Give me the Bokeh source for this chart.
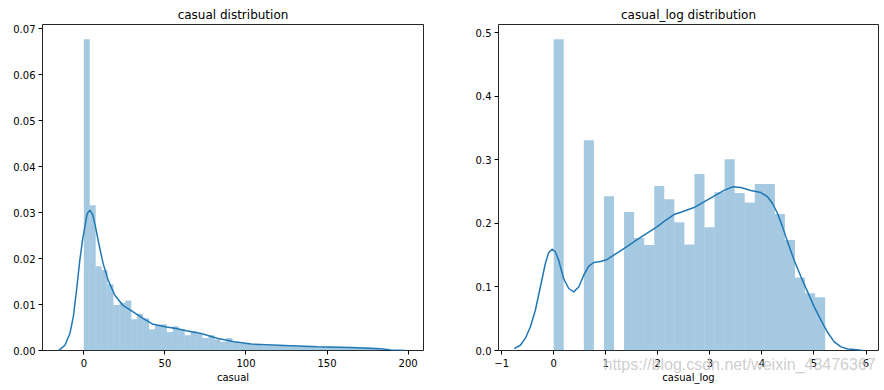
from bokeh.plotting import figure
from bokeh.layouts import row
from bokeh.models import FixedTicker, PrintfTickFormatter, Title
from bokeh.embed import file_html
from bokeh.resources import INLINE

# ---- data: casual ----
casual_bin_start = 0.0
casual_bin_width = 3.66
casual_density = [
    0.0677, 0.0316, 0.0183, 0.0175, 0.0144, 0.0099, 0.0104, 0.0109, 0.0068, 0.0080,
    0.0070, 0.0046, 0.0056, 0.0057, 0.0040, 0.0053, 0.0046, 0.0033, 0.0042, 0.0037,
    0.0027, 0.0033, 0.0024, 0.0019, 0.0027, 0.0018, 0.0016, 0.0014, 0.0013, 0.0012,
    0.0011, 0.0011, 0.0010, 0.0010, 0.0009, 0.0009, 0.0008, 0.0008, 0.0008, 0.0007,
    0.0008, 0.0008, 0.0007, 0.0006, 0.0007, 0.0006, 0.0006, 0.0007, 0.0006, 0.0005,
]
casual_kde_x = [-15.7, -14.8, -11.7, -8.6, -6.5, -4.5, -2.5, -0.8, 0.6, 2.1, 3.7, 5.4, 7.2,
                9.2, 11.9, 15.0, 19.1, 24.2, 30.4, 36.5, 42.7, 50.9, 57.0, 63.2, 72.4,
                82.7, 92.9, 103.2, 123.7, 144.2, 164.7, 183.2, 189.4, 198.6]
casual_kde_y = [0.0, 0.0002, 0.00115, 0.0037, 0.0073, 0.0131, 0.0196, 0.0240, 0.0269,
                0.0298, 0.0305, 0.0296, 0.0269, 0.0233, 0.0189, 0.0153, 0.0120, 0.0098,
                0.0084, 0.0070, 0.0057, 0.0051, 0.0048, 0.0043, 0.0037, 0.0026, 0.0019,
                0.0014, 0.0011, 0.0008, 0.00065, 0.0004, 0.00013, 0.0]

# ---- data: casual_log ----
log_bin_start = 0.0
log_bin_width = 0.19315
log_density = [
    0.490, 0.0, 0.0, 0.331, 0.0, 0.243, 0.0, 0.218, 0.177, 0.166,
    0.259, 0.238, 0.202, 0.167, 0.278, 0.194, 0.249, 0.301, 0.248, 0.233,
    0.262, 0.262, 0.215, 0.174, 0.115, 0.090, 0.084,
]
log_kde_x = [-0.757, -0.641, -0.545, -0.449, -0.353, -0.256, -0.16, -0.096, -0.031, 0.033,
             0.096, 0.193, 0.289, 0.385, 0.481, 0.578, 0.674, 0.77, 0.899, 1.027, 1.155,
             1.348, 1.54, 1.669, 1.99, 2.15, 2.31, 2.456, 2.695, 2.888, 3.08, 3.273,
             3.435, 3.595, 3.787, 3.98, 4.108, 4.205, 4.301, 4.397, 4.494, 4.62, 4.75,
             4.878, 5.006, 5.135, 5.264, 5.39, 5.52, 5.649, 5.776, 5.94]
log_kde_y = [0.003, 0.0083, 0.019, 0.037, 0.063, 0.100, 0.137, 0.154, 0.1595, 0.155,
             0.142, 0.113, 0.0976, 0.0923, 0.100, 0.1185, 0.1327, 0.1385, 0.140, 0.1433,
             0.150, 0.1605, 0.171, 0.178, 0.195, 0.205, 0.214, 0.218, 0.225, 0.234, 0.243,
             0.252, 0.2576, 0.2566, 0.252, 0.2487, 0.242, 0.2314, 0.2157, 0.1946, 0.171,
             0.142, 0.116, 0.0923, 0.0687, 0.0477, 0.0283, 0.0136, 0.0057, 0.0025,
             0.0016, 0.0]

casual_xticks = [0, 50, 100, 150, 200]
casual_yticks = [0.0, 0.01, 0.02, 0.03, 0.04, 0.05, 0.06, 0.07]
log_xticks = [-1, 0, 1, 2, 3, 4, 5, 6]
log_yticks = [0.0, 0.1, 0.2, 0.3, 0.4, 0.5]

watermark_text = "https://blog.csdn.net/weixin_43476367"

BLUE = "#1f77b4"
FONT = "DejaVu Sans"


def make_fig(title, xlabel, x_range, y_range, width, mb_left, mb_right):
    p = figure(width=width, height=390, x_range=x_range, y_range=y_range,
               output_backend="svg", toolbar_location=None, title=None,
               min_border_left=mb_left, min_border_right=mb_right,
               min_border_top=24, min_border_bottom=40)
    t = Title(text=title, text_font=FONT, text_font_size="12px", text_font_style="normal",
              text_color="black", align="center", standoff=5, offset=0)
    p.add_layout(t, "above")
    p.xgrid.visible = False
    p.ygrid.visible = False
    p.outline_line_color = "black"
    p.outline_line_width = 1
    p.outline_line_alpha = 0.85
    p.background_fill_color = "white"
    p.border_fill_color = "white"
    for ax in (p.xaxis, p.yaxis):
        ax.axis_line_color = None
        ax.major_tick_line_color = "black"
        ax.major_tick_out = 4
        ax.major_tick_in = 0
        ax.minor_tick_line_color = None
        ax.major_label_text_font = FONT
        ax.major_label_text_font_size = "10px"
        ax.major_label_text_color = "black"
        ax.axis_label_text_font = FONT
        ax.axis_label_text_font_size = "10px"
        ax.axis_label_text_font_style = "normal"
        ax.axis_label_text_color = "black"
    p.xaxis.major_label_standoff = 4
    p.yaxis.major_label_standoff = 3
    p.xaxis.axis_label = xlabel
    p.xaxis.axis_label_standoff = 2
    return p


# left
p1 = make_fig("casual distribution", "casual", (-25.5, 209.5), (0, 0.0709), 460, 42, 37)
lefts = [casual_bin_start + i * casual_bin_width for i in range(len(casual_density))]
p1.quad(left=lefts, right=[l + casual_bin_width for l in lefts], bottom=0, top=casual_density,
        fill_color=BLUE, fill_alpha=0.4, line_color=None)
p1.line(casual_kde_x, casual_kde_y, line_color=BLUE, line_width=1.5)
p1.xaxis.ticker = FixedTicker(ticks=casual_xticks)
p1.yaxis.ticker = FixedTicker(ticks=casual_yticks)
p1.yaxis.formatter = PrintfTickFormatter(format="%.2f")

# right
p2 = make_fig("casual_log distribution", "casual_log", (-1.06, 6.24), (0, 0.5132), 424, 38, 6)
lefts2 = [log_bin_start + i * log_bin_width for i in range(len(log_density))]
p2.quad(left=lefts2, right=[l + log_bin_width for l in lefts2], bottom=0, top=log_density,
        fill_color=BLUE, fill_alpha=0.4, line_color=None)
p2.line(log_kde_x, log_kde_y, line_color=BLUE, line_width=1.5)
p2.xaxis.ticker = FixedTicker(ticks=log_xticks)
p2.xaxis.major_label_overrides = {-1: "\u22121"}
p2.yaxis.ticker = FixedTicker(ticks=log_yticks)
p2.yaxis.formatter = PrintfTickFormatter(format="%.1f")

wm = Title(text=watermark_text, text_font="Liberation Sans", text_font_size="16px",
           text_font_style="normal", text_color="#c8c8c8", text_alpha=0.9,
           align="left", vertical_align="top", offset=105, standoff=-60)
p2.add_layout(wm, "below")

layout = row(p1, p2)
open("out.html", "w").write(file_html(layout, INLINE))
